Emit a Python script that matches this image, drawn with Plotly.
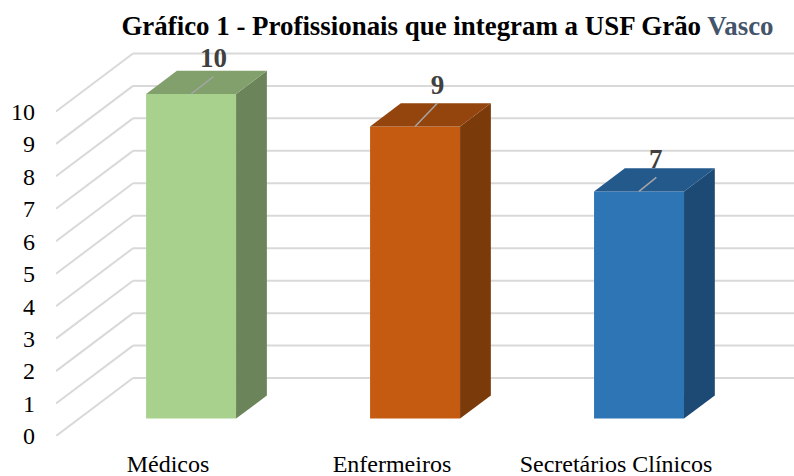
import plotly.graph_objects as go

categories = ['Médicos', 'Enfermeiros', 'Secretários Clínicos']
values = [10, 9, 7]
y_ticks = [0, 1, 2, 3, 4, 5, 6, 7, 8, 9, 10]

front_colors = ['#a9d18e', '#c55a11', '#2e75b6']
side_colors = ['#6b845a', '#7b3a0a', '#1d4a75']
top_colors = ['#82a06c', '#94440d', '#24598c']

# pixel size of one unit on each axis, used to turn px offsets into data units
px_x = 224.0
px_y = 32.5

# fake 3d: how far the back wall sits from the front of the floor
wall_dx = 77 / px_x
wall_dy = 58 / px_y
# bar front and back, as a fraction of the floor depth
bar_front = 0.30
bar_back = 0.70
bar_w = 90 / px_x

# data labels and leader lines, px away from the front top centre of each bar
label_off = [(22.5, 33.5), (22.5, 39), (16.7, 30)]
leader_off = [(22.5, 17.5), (22.5, 23.5), (17.3, 14)]

fig = go.Figure()

depth_x = (bar_back - bar_front) * wall_dx
depth_y = (bar_back - bar_front) * wall_dy
front_x = [i + bar_front * wall_dx for i in range(len(values))]
base_y = bar_front * wall_dy

fig.add_trace(go.Bar(x=front_x, y=values, base=base_y, width=bar_w,
                     marker=dict(color=front_colors, line_width=0), hoverinfo='skip'))

for i, val in enumerate(values):
    left = front_x[i] - bar_w / 2
    right = front_x[i] + bar_w / 2
    top = base_y + val
    # side face
    fig.add_trace(go.Scatter(
        x=[right, right + depth_x, right + depth_x, right, right],
        y=[base_y, base_y + depth_y, top + depth_y, top, base_y],
        mode='lines', fill='toself', fillcolor=side_colors[i], line=dict(width=0), hoverinfo='skip'))
    # top face
    fig.add_trace(go.Scatter(
        x=[left, left + depth_x, right + depth_x, right, left],
        y=[top, top + depth_y, top + depth_y, top, top],
        mode='lines', fill='toself', fillcolor=top_colors[i], line=dict(width=0), hoverinfo='skip'))
    # leader line
    fig.add_trace(go.Scatter(
        x=[front_x[i], front_x[i] + leader_off[i][0] / px_x],
        y=[top, top + leader_off[i][1] / px_y],
        mode='lines', line=dict(color='#a6a6a6', width=1.5), hoverinfo='skip'))

fig.add_trace(go.Scatter(
    x=[front_x[i] + label_off[i][0] / px_x for i in range(len(values))],
    y=[base_y + values[i] + label_off[i][1] / px_y for i in range(len(values))],
    text=[str(v) for v in values],
    mode='text', textposition='middle center', cliponaxis=False,
    textfont=dict(family='Liberation Serif', size=27, color='#404040', weight='bold'),
    hoverinfo='skip'))

# gridlines run along the side wall and then the back wall, under the bars
for tick in y_ticks:
    fig.add_shape(type='line', layer='below', x0=-0.5, y0=tick, x1=-0.5 + wall_dx, y1=tick + wall_dy,
                  line=dict(color='#d9d9d9', width=2))
    fig.add_shape(type='line', layer='below', x0=-0.5 + wall_dx, y0=tick + wall_dy, x1=2.8, y1=tick + wall_dy,
                  line=dict(color='#d9d9d9', width=2))

fig.update_layout(
    width=794,
    height=476,
    autosize=False,
    showlegend=False,
    paper_bgcolor='white',
    plot_bgcolor='white',
    margin=dict(l=56, r=0, t=0, b=39.5),
    font=dict(family='Liberation Serif', color='#000000'),
    title=dict(
        text='<b>Gráfico 1 - Profissionais que integram a USF Grão <span style="color:#44546a">Vasco</span></b>',
        font=dict(family='Liberation Serif', size=26.9, color='#000000'),
        x=447.5 / 794, xanchor='center', y=1 - 26 / 476, yanchor='middle'),
    xaxis=dict(
        range=[-0.5, 2.795],
        tickvals=[0, 1, 2],
        ticktext=categories,
        automargin=False,
        showgrid=False, zeroline=False, showline=False, ticks='',
        ticklabelstandoff=11,
        tickfont=dict(family='Liberation Serif', size=24, color='#000000'),
        fixedrange=True),
    yaxis=dict(
        range=[0, 13.431],
        tickvals=y_ticks,
        automargin=False,
        showgrid=False, zeroline=False, showline=False, ticks='',
        ticklabelstandoff=20,
        tickfont=dict(family='Liberation Serif', size=24, color='#000000'),
        fixedrange=True),
)

# the page's default body margin would push the figure 8px in
fig.write_html("out.html", config=dict(displayModeBar=False),
               post_script="document.body.style.margin='0';")
